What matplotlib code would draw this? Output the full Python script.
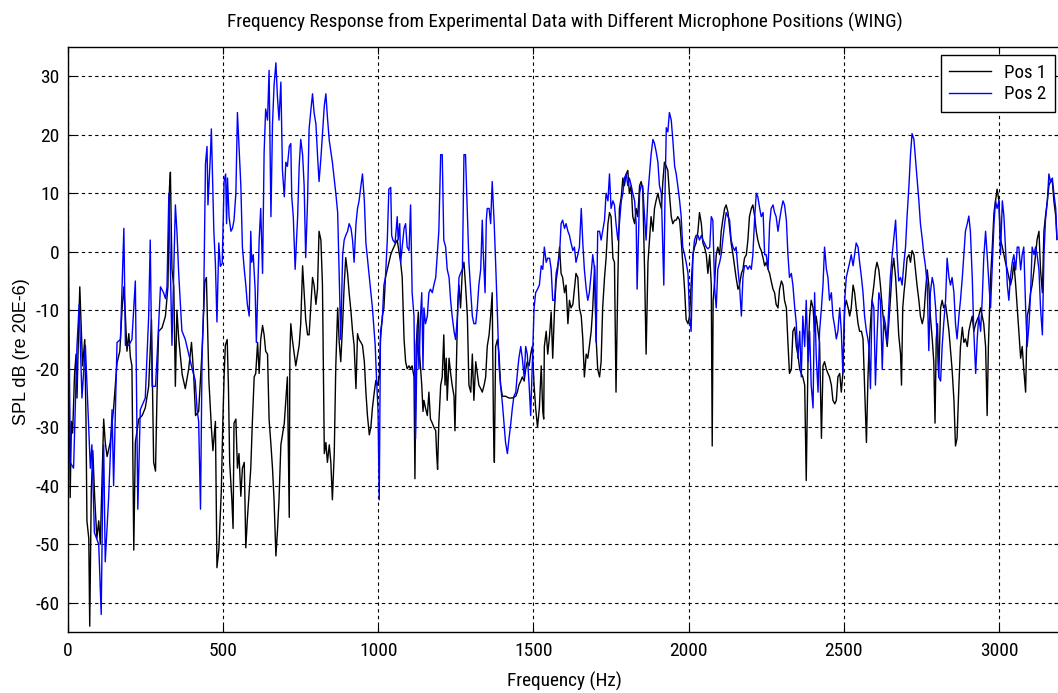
import matplotlib
matplotlib.use("Agg")
import matplotlib.pyplot as plt
from matplotlib import font_manager as fm

# ---------------- data ----------------
# Pos 2 (blue) — frequency (Hz) and SPL (dB), in segments
pos2_hz_a = [0,7,18,29,36,45,56,72,77,85,99,107,112,115,120,131,142,147,158,169,180,185,196,206,217,225,233,249,260,265,271,282,287,298,308,314,319,325,335,346,351,357,367,378,389,400,410,416,421,427,432,437,443,448,451,459,462,470,475,480,486,491,497]
pos2_db_a = [13,-36,-37,-16,-9,-25,-16,-37,-33,-48,-50,-62,-40,-33,-53,-42,-27,-40,-15.5,-15,4,-16,-16,-15,-5,-44,-27,-25,-11,2,-23,-23,-18,-6,-7,-8,-6,10,-16,8,3.5,-4,-13.5,-15,-17.5,-20,-22,-27,-29,-44,-18,-9.6,15,18,8,16.6,21,3.5,-2,-12,1.5,-2.5,-2]
pos2_hz_b = [503,508,511,514,519,525,530,535,541,546,551,557,562,568,573,578,584,589,592,597,603,607,616,621,627,632,637,643,648,654,659,664,670,675,680,686,691,697,702,707,713,718,721,726,732,740,745,750,756,761,766,772,777,783,788,793,799,804,809,815,820,826,831,836,842,852,863,869,874,879,885,890,895,901,906,912,917,922,928,933,938,944,949,955,960,971,981,990,994,999,1003]
pos2_db_b = [12,13.3,4.8,12.6,6,3.5,4,5.4,10,23.8,18,11.3,0.8,-3,-5.7,-9,-11,3.5,-1.8,-0.5,-6.4,-15.5,2,7.4,-3.7,17,24.4,22.5,31,6,21.8,28.4,32.3,26.4,22.5,29,14,9.4,15.3,14.6,18,18.5,9.4,6,-3,6,14.6,19.2,16.6,11.3,-1,8.7,21,24.4,27,23.8,21.8,16.6,12,16,20,25,27,23,19,15.3,10,6.7,-4.4,-15,-0.5,2,2.8,3.5,4.8,4,2,-1.8,4.8,7.4,8.7,11.3,13.3,8.7,1.5,-4.4,-9.6,-16,-21.4,-27,-42.4]
pos2_hz_c = [1007,1013,1018,1023,1029,1034,1040,1043,1047,1054,1061,1064,1069,1072,1077,1083,1088,1093,1099,1104,1109,1115,1118,1120,1126,1131,1136,1140,1144,1147,1152,1158,1163,1168,1174,1179,1185,1190,1195,1201,1206,1211,1217,1222,1228,1233,1238,1244,1249,1255,1260,1265,1271,1276,1281,1287,1292,1298,1303,1308,1314,1319,1324,1330,1335,1338,1344,1348,1351,1357,1362,1367,1373,1378,1384,1389,1394,1400,1405,1410,1416,1421,1427,1432,1437,1443,1448,1453,1459,1464,1470,1475,1480,1486,1491,1496,1502,1507,1513]
pos2_db_c = [-13.6,-11.6,-5.7,-4.4,2,10.7,11,2.8,2,1.5,6,2,4.8,-1.8,0.8,4,4.8,0.8,0.2,8,-7,-11,-22.8,-32,-12.3,-20,-11,-7,-20,-9.6,-12.3,-11,-7,-6.4,-7,-5.7,-4.4,-0.5,3.5,16.6,16.6,2,0.8,-3,-4.4,-8.3,-11,-13.6,-15,-11,-4.4,-3.7,-3,16.6,16.6,6.7,-1.8,-7,-11,-12.3,-12.3,-9.6,-5.7,-3,5.4,0.2,-7,5.4,7.4,7.4,4.8,12,5.4,-1.8,-11,-19.5,-22.8,-26,-29.3,-32.6,-34.5,-32,-29.3,-26.7,-24.7,-24,-20.8,-18.2,-16.2,-18.2,-21.4,-16.2,-17.5,-22.8,-28,-19.5,-9.6,-7,-6.4]
pos2_hz_d = [1519,1525,1530,1535,1541,1546,1552,1557,1562,1568,1573,1578,1584,1589,1594,1600,1605,1611,1616,1621,1627,1632,1637,1643,1648,1654,1659,1664,1670,1675,1680,1686,1691,1697,1702,1705,1707,1713,1718,1723,1729,1734,1740,1745,1750,1756,1761,1766,1772,1777,1783,1788,1793,1799,1804,1809,1815,1820,1826,1831,1834,1838,1842,1847,1852,1858,1863,1869,1874,1879,1885,1890,1895,1901,1906,1912,1917,1920,1924,1928,1933,1938,1944,1949,1955,1960,1965,1971,1976,1981,1987,1992,1998,2003,2008,2014,2019,2024,2030,2035,2041,2046,2051,2057,2062]
pos2_db_d = [-5.7,-2.4,-3,0.8,-1.8,-1.1,-1.1,-3,-8.3,-8.3,-3.7,-2.4,-0.5,4.8,5.4,4,4.8,3.5,2.8,1.5,0.2,0.8,-1.8,-0.5,0.8,7.4,1.5,-3,-6.4,-8.3,-7,-3.7,-0.5,-3,-15.5,-4.4,3.5,3.5,2,3.5,5.4,10,8.7,13.3,7.4,8.7,8,4.8,2,4.8,8.7,10,12.6,13.3,11.3,12.6,11.3,10,8.7,4.8,-6.4,2,10,11.3,11.3,6,2,10,13.3,16.6,19.2,18.5,17.2,15.3,11.3,10,0.2,-5.7,10,21.2,20.5,23.8,22.5,19.2,14.6,13.3,11.3,8.7,6,0.8,-0.5,-1.8,-3.7,-11,-13.6,-0.5,2,2.8,2.8,2,2.8,2,1.5,0.8,0.5]
pos2_hz_e = [2068,2073,2078,2084,2089,2094,2100,2105,2110,2116,2121,2127,2132,2137,2143,2148,2153,2159,2164,2170,2175,2180,2186,2191,2197,2202,2207,2213,2218,2223,2229,2234,2240,2245,2250,2256,2261,2266,2272,2277,2282,2288,2293,2299,2304,2309,2315,2320,2325,2331,2336,2342,2347,2352,2358,2363,2368,2374,2379,2385,2390,2395,2401,2406,2411,2417,2422,2428,2433,2438,2444,2449,2454,2460,2465,2471,2476,2481,2487,2492,2497,2503,2508,2514,2519,2524,2530,2535,2540,2546,2551,2557,2562,2567,2573,2578]
pos2_db_e = [0.8,6,5.4,-6.4,-9.6,-3,-1.8,-0.5,2,4.8,6.7,6,5.4,2,0.8,0.2,0.8,-3,-5.7,-11,-4.4,-2.4,-2.4,-3,-2.4,-3,-0.5,6,10,9.4,7.4,6,6.7,-0.5,-0.5,-3,4.8,7.4,8,6.7,6,3.5,5.4,7.4,8.7,8,5.4,-0.5,-4.4,-3.7,-5.7,-9.6,-12.3,-18.2,-13.6,-21.4,-11,-16.2,-8.3,-18.8,-13.6,-22.8,-26.7,-7,-17.5,-24,-13.6,-9.6,-5.7,0.8,-3,-4.4,-8.3,-7,-11,-12.9,-14.9,-13.6,-9.6,-13.6,-20.8,-8.3,-4.4,-3,-1.8,-0.5,-2.4,-0.5,1.5,0.8,-1.8,-4.4,-7,-11,-13.6,-15]
pos2_hz_f = [2581,2586,2591,2597,2602,2607,2613,2618,2624,2629,2634,2640,2645,2650,2656,2661,2667,2672,2677,2683,2688,2694,2699,2704,2710,2715,2720,2726,2731,2736,2742,2747,2753,2758,2763,2769,2774,2779,2785,2790,2796,2801,2806,2812,2817,2822,2828,2833,2839,2844,2849,2855,2860,2865,2871,2876,2882,2887,2892,2898,2903,2908,2914,2919,2925,2930,2935,2941,2946,2951,2957,2962,2968,2973,2978,2984,2989,2994,3000,3005,3011,3016,3021,3027,3032,3037,3043,3048,3054,3059,3064,3070,3075,3080,3086,3091,3097,3102,3107,3113,3118,3123,3129,3134,3140,3145,3150,3156,3161,3166,3172,3177,3183,3187]
pos2_db_f = [-16.2,-23.4,-8.3,-9.6,-22.8,-14.9,-7,-8.3,-20.1,-11,-12.3,-15.5,-9.6,-4.4,-0.5,2.1,5.4,-0.5,-5,-4.4,-5.7,-1.8,0.8,6.1,11.3,16.6,20.2,19.2,15.9,12.6,8.7,4.8,2.1,-0.5,-2.4,-5.7,-16.9,-7,-4.4,-5.7,-9.6,-14.9,-21.4,-22.1,-16.2,-12.3,-8.3,-1.1,-4.4,-5.7,-4.4,-7,-12.3,-14.9,-11,-8.3,-4.4,-0.5,3.5,4.8,6.1,3.5,-4.4,-13.6,-20.8,-14.9,-11,-13.6,-8.3,-1.1,3.5,-0.5,-5.7,-9.6,-3.1,4.8,8.7,7.4,8.7,-0.5,8.7,6.1,0.8,-5.7,-8.3,-4.4,-1.8,-0.5,-3.1,0.8,0.8,-3.1,-0.5,0.8,-9.6,-16.2,-12.3,-7,0.8,-0.5,0.8,-0.5,-3.1,-9.6,-14.2,-0.5,5.4,8.7,13.3,12,12.6,10,7.4,2.1]

# Pos 1 (black)
pos1_hz_a = [0,4,7,11,15,21,26,29,34,38,43,47,54,58,61,67,70,75,80,86,93,99,104,110,115,120,126,136,147,158,167,174,180,185,190,196,201,206,212,217,228,239,249,260,269,276,282,287,292,303,314,322,327,330,335,341,346,351,357,368,378,389,398,405,411,421,432,441,446,454,462,467,475,480,486,494,499,503,507,513]
pos1_db_a = [-13,-23,-42,-29,-31,-21,-17.5,-25,-13.6,-6,-13.6,-19.5,-15,-29,-46,-49,-64,-41,-34,-42,-49,-46,-50,-38.5,-28.6,-32.6,-35,-32.6,-26.7,-19,-17,-10,-6,-11,-17,-14,-18,-19.5,-51,-32.6,-28.6,-28,-26.7,-23,-11.6,-36,-37.5,-24,-13.6,-13,-11,-6,11,13.6,-3,-6,-23,-10,-15,-21,-23.4,-20,-15.5,-21,-28,-27.3,-17,-5,-4.4,-22,-30,-34,-29,-54,-51,-41,-29,-21.4,-16,-15]
pos1_hz_b = [517,521,528,532,535,541,546,551,557,562,568,573,578,589,594,600,605,611,616,621,627,632,637,643,648,654,659,664,670,675,680,686,691,697,702,707,713,715,718,723,729,734,745,750,756,761,766,772,777,783,788,793,799,804,809,815,820,826,831,836,842,847,852,858,863,869,874,879,885,890,895,901,906,912,917,922,928,933,938,944,949,955,960,965,971,976,981,987,992,998,1003]
pos1_db_b = [-23,-36,-42.4,-47.3,-29.3,-28.6,-37,-34.5,-41.8,-37,-36,-50.6,-45.7,-37,-29.3,-21.4,-20.8,-15.5,-20.8,-15,-12.6,-14.2,-17,-17.5,-28.6,-33,-37,-42.4,-52,-47.7,-42.4,-33,-31.3,-29.3,-25.4,-21.4,-45.4,-17.5,-12.3,-15,-17.5,-19.5,-16,-12.3,-2.4,-7,-11.6,-14.2,-14.2,-9,-4.4,-5.7,-9,-6.4,3.5,2,-5.7,-34.5,-32.6,-36,-33,-36,-42.4,-34.5,-19.5,-9.6,-15.5,-18.8,-12.3,-5.7,-1,-3.7,-7,-10.3,-13.6,-16,-23.4,-14,-15,-15.5,-16,-18.8,-24,-28,-31.3,-30,-26.7,-24,-22,-22.8,-21.4]
pos1_hz_c = [1007,1013,1018,1023,1029,1034,1040,1045,1050,1056,1061,1066,1072,1077,1083,1088,1093,1099,1104,1109,1115,1118,1122,1129,1133,1140,1144,1147,1152,1158,1163,1168,1174,1179,1185,1188,1191,1195,1201,1206,1211,1215,1219,1222,1228,1233,1238,1244,1247,1251,1256,1260,1265,1271,1276,1281,1287,1292,1298,1303,1308,1314,1319,1324,1330,1335,1341,1346,1351,1357,1362,1367,1371,1374,1378,1384,1389,1394,1400,1410,1421,1432,1443,1448,1453,1459,1464,1470,1475,1480,1486,1491,1496,1502,1507,1513]
pos1_db_c = [-15,-11,-9.6,-4.4,-3,-1.8,-0.5,0.2,0.8,1.5,2,0.2,-1.8,-4.4,-15,-18.8,-20,-19.5,-20,-19.5,-21.4,-38.8,-16,-10.3,-17.5,-22.8,-27.3,-25.4,-26.7,-28,-24,-28.6,-29.3,-30,-30.6,-34.5,-37.2,-29.3,-22.8,-21.4,-14.2,-22.8,-18.2,-25.4,-18.2,-20.8,-22.8,-24.7,-30.6,-20.8,-9,-5.7,-9.6,-3,-1.8,-5.7,-11,-22.8,-24,-17.5,-25.4,-18.8,-20.8,-22.8,-23.4,-24,-22.8,-21.4,-16.2,-14.2,-11,-7,-29.3,-36,-16.2,-15,-17.5,-22.8,-24.7,-24.7,-25,-25,-24.7,-24,-22.8,-22.1,-21.4,-22.1,-20.1,-18.8,-19.5,-17.5,-16.2,-22.8,-26.7,-30]
pos1_hz_d = [1519,1525,1530,1533,1535,1541,1546,1552,1557,1562,1568,1573,1578,1584,1589,1594,1600,1605,1611,1616,1621,1627,1632,1637,1643,1648,1654,1659,1664,1670,1675,1680,1686,1691,1697,1702,1707,1713,1718,1723,1729,1734,1740,1745,1750,1756,1761,1766,1772,1777,1783,1788,1793,1799,1804,1809,1815,1820,1826,1831,1836,1842,1847,1852,1858,1863,1869,1874,1879,1885,1890,1895,1901,1906,1912,1917,1922,1928,1933,1938,1944,1949,1955,1960,1965,1971,1976,1981,1987,1992,1998,2003,2008,2014,2019,2024,2030,2035,2041,2046,2051,2057,2062]
pos1_db_d = [-26.7,-19.5,-27.3,-28.6,-16.2,-13.6,-17.5,-14.2,-10.3,-18.2,-9.6,-5,-3,0.8,-3.7,-4.4,-7,-5.7,-12.3,-8.3,-9.6,-9,-6.4,-3.7,-4.4,-9.6,-11,-14.9,-21.4,-17.5,-18.2,-16.2,-13.6,-9.6,-2.4,-14.9,-20.1,-21.4,-18.8,-9.6,-4.4,-1.1,4.8,6.7,6,-1.1,-1.8,-24,-4.4,7.4,9.4,12.6,11.3,13.3,13.9,10,11.3,6,4.8,7.4,6,11.3,12,10.7,-3,-17.5,-1.8,2,6,3.5,7.4,8.7,10,8.7,7.4,12,15.3,14.6,13.9,10,6,4.8,5.4,5.4,6,5.4,2,-1.8,-6.4,-11.6,-12.3,-11,-5.7,-0.5,0.8,1.5,3.5,6.7,4.8,1.5,0.8,-0.5,-3.7]
pos1_hz_e = [2068,2073,2076,2079,2084,2089,2094,2100,2105,2110,2116,2121,2127,2132,2137,2143,2148,2153,2159,2164,2170,2175,2180,2186,2191,2196,2202,2207,2213,2218,2223,2229,2234,2240,2245,2250,2256,2261,2266,2272,2277,2282,2288,2293,2299,2304,2309,2315,2320,2325,2331,2336,2342,2347,2352,2358,2363,2368,2374,2379,2385,2390,2395,2401,2406,2411,2417,2422,2428,2433,2438,2444,2449,2454,2460,2465,2471,2476,2481,2487,2492,2497,2503,2508,2514,2519,2524,2530,2535,2540,2546,2551,2557,2562,2567,2573,2578]
pos1_db_e = [-0.5,-5.7,-33.2,-8.3,-5,-0.5,0.8,-0.5,3.5,5.4,7.4,8,6.7,4.1,1.5,-0.5,-2.4,-4.4,-6.4,-5.7,-3.7,-3,-1.1,-0.5,2,6,7.4,8,6,3.5,2,0.8,0.2,-1.1,-2.4,-1.8,-3,-3.7,-5,-6.4,-7,-9,-9.6,-6.4,-5,-5.7,-8.3,-9.6,-15.5,-20.8,-20.1,-13.6,-12.9,-16.2,-17.5,-20.1,-20.8,-21.4,-22.8,-39.1,-17.5,-11,-8.3,-9.6,-13.6,-11,-13.6,-15.5,-31.9,-19.5,-18.8,-20.1,-20.8,-21.4,-22.8,-25.4,-26,-25.4,-21.4,-20.8,-24,-20.8,-9.6,-8.3,-9.6,-11,-9.6,-5.7,-7,-9.6,-12.3,-13.6,-13.6,-14.9,-22.8,-32.6,-21.4]
pos1_hz_f = [2581,2586,2591,2597,2602,2607,2613,2618,2624,2629,2634,2640,2645,2650,2656,2661,2667,2672,2677,2683,2686,2690,2694,2699,2704,2710,2715,2720,2726,2731,2736,2742,2747,2753,2758,2763,2769,2774,2779,2785,2790,2794,2798,2802,2806,2812,2817,2822,2828,2833,2839,2844,2849,2855,2860,2865,2871,2876,2882,2887,2892,2898,2903,2908,2914,2919,2925,2930,2935,2941,2946,2951,2957,2962,2966,2970,2973,2978,2984,2989,2994,3000,3005,3011,3016,3021,3027,3032,3037,3043,3048,3054,3059,3064,3070,3075,3080,3086,3091,3097,3102,3107,3113,3118,3123,3129,3134,3140,3145,3150,3156,3161,3166,3172,3177,3183,3187]
pos1_db_f = [-17,-12.3,-8.3,-5.7,-3.1,-1.8,-3.1,-5.7,-9.6,-12.3,-13.6,-16.2,-12.3,-8.3,-3.1,-1.1,-4.4,-9,-14.2,-17.5,-22.8,-9.6,-7,-4.4,-1.1,-0.5,-1.8,0.2,-0.5,-3.1,-5.7,-8.3,-11,-12.3,-11,-7,-3.1,-5.7,-11,-14.9,-18.8,-29.3,-14.9,-12.3,-21.4,-9.6,-8.3,-9.6,-9,-11,-13.6,-16.9,-20.1,-25.4,-33.2,-31.9,-22.8,-16.2,-12.9,-15.5,-14.9,-16.2,-13.6,-12.3,-11,-13.6,-12.3,-11.6,-11,-9.6,-11,-12.3,-16.2,-28,-16.2,-9.6,-4.4,0.2,6.7,8.7,10.7,8.7,2.1,0.8,-0.5,-1.8,-3.1,-4.4,-5.7,-4.4,-1.8,-5.7,-9.6,-13.6,-18.2,-16.2,-20.1,-24,-11,-9.6,-7,-5.7,-3.1,-0.5,2.1,3.5,-3.1,-7,3.5,6.1,8.7,11.3,12,12,8.7,6.1,2.1]

x_ticks = [0, 500, 1000, 1500, 2000, 2500, 3000]
y_ticks = [-60, -50, -40, -30, -20, -10, 0, 10, 20, 30]
series_labels = ["Pos 1", "Pos 2"]

title_text = "Frequency Response from Experimental Data with Different Microphone Positions (WING)"
x_label = "Frequency (Hz)"
y_label = "SPL dB (re 20E-6)"

pos1_hz = pos1_hz_a + pos1_hz_b + pos1_hz_c + pos1_hz_d + pos1_hz_e + pos1_hz_f
pos1_db = pos1_db_a + pos1_db_b + pos1_db_c + pos1_db_d + pos1_db_e + pos1_db_f
pos2_hz = pos2_hz_a + pos2_hz_b + pos2_hz_c + pos2_hz_d + pos2_hz_e + pos2_hz_f
pos2_db = pos2_db_a + pos2_db_b + pos2_db_c + pos2_db_d + pos2_db_e + pos2_db_f
n1 = min(len(pos1_hz), len(pos1_db))
n2 = min(len(pos2_hz), len(pos2_db))

# ---------------- fonts ----------------
plt.rcParams["axes.unicode_minus"] = False
ttf = fm.fontManager.ttflist
narrow_path = None
for cand in ["Liberation Sans Narrow", "Arial Narrow", "Nimbus Sans Narrow",
             "Roboto Condensed", "Open Sans Condensed", "DejaVu Sans Condensed",
             "Noto Sans Condensed"]:
    hits = [f for f in ttf if f.name == cand and f.weight in (400, "normal", "regular")
            and f.style == "normal"]
    if hits:
        narrow_path = hits[0].fname
        break
if narrow_path is None:
    hits = [f for f in ttf if f.stretch in ("condensed", "semi-condensed", "extra-condensed")
            and f.style == "normal" and f.weight in (400, "normal", "regular")]
    if hits:
        narrow_path = hits[0].fname
names = {f.name for f in ttf}
regular_family = "Liberation Sans" if "Liberation Sans" in names else "DejaVu Sans"

def fp(size, regular=False):
    if narrow_path is not None and not regular:
        return fm.FontProperties(fname=narrow_path, size=size)
    return fm.FontProperties(family=regular_family, size=size)

# ---------------- figure ----------------
fig = plt.figure(figsize=(10.58, 6.93), dpi=100)
ax = fig.add_axes([68/1058, 61/693, 993/1058, 585/693])
renderer = fig.canvas.get_renderer()

def fitted_size(text, target_w, base=12.0, regular=False, cap=None):
    t = fig.text(0, 0, text, fontproperties=fp(base, regular))
    w = t.get_window_extent(renderer).width
    t.remove()
    s = base * target_w / w
    if cap is not None:
        s = min(s, cap)
    return s

title_size = fitted_size(title_text, 675, cap=14)
xlabel_size = fitted_size(x_label, 115, cap=14)
ylabel_size = fitted_size(y_label, 162, regular=True, cap=13)
tick_size = fitted_size("-60", 25, cap=14)
legend_size = fitted_size("Pos 1", 42, cap=15)

ax.plot(pos1_hz[:n1], pos1_db[:n1], color="black", lw=1.0, label=series_labels[0])
ax.plot(pos2_hz[:n2], pos2_db[:n2], color="#0000ff", lw=1.0, label=series_labels[1])

ax.set_xlim(0, 3200)
ax.set_ylim(-65, 35)
ax.set_xticks(x_ticks)
ax.set_yticks(y_ticks)
ax.grid(True, color="black", linestyle=(0, (3, 3)), linewidth=0.8)
ax.tick_params(direction="in", length=5, top=True, right=True, pad=6)
ax.tick_params(axis="x", pad=7)
for lab in ax.get_xticklabels() + ax.get_yticklabels():
    lab.set_fontproperties(fp(tick_size))
for sp in ax.spines.values():
    sp.set_linewidth(1.0)

ax.set_title(title_text, fontproperties=fp(title_size), pad=14)
ax.set_xlabel(x_label, fontproperties=fp(xlabel_size), va="center")
ax.xaxis.set_label_coords(0.5, -49/585)
ax.set_ylabel(y_label, fontproperties=fp(ylabel_size, regular=True), va="center")
ax.yaxis.set_label_coords(-46/993, 0.48)

leg = ax.legend(loc="upper right", bbox_to_anchor=(0.994, 0.986), borderaxespad=0,
                prop=fp(legend_size), fancybox=False, framealpha=1,
                edgecolor="black", handlelength=2.2, handletextpad=0.7,
                borderpad=0.45, labelspacing=0.2)
leg.get_frame().set_linewidth(1.0)

fig.savefig("out.png", dpi=100)
